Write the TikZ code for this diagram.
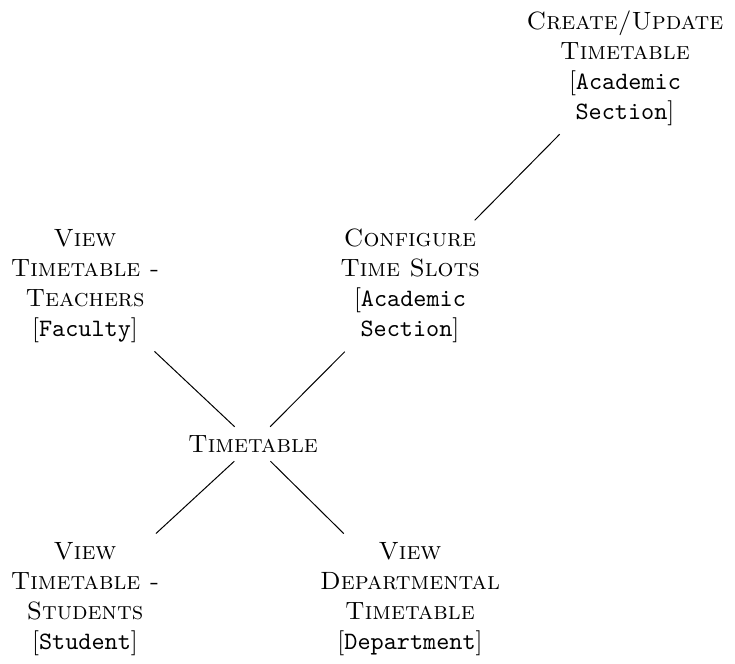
\documentclass[tikz,border=0pt]{standalone}
\begin{document}
\begin{tikzpicture}[x=0.4pt,y=-0.4pt,
  lbl/.style={align=center, inner sep=3.3pt},
  conn/.style={draw=black, line width=0.4pt}]
\useasboundingbox (0,0) rectangle (735,664);
\node[lbl] (cu) at (625,68) {\textsc{Create/Update}\\\textsc{Timetable}\\{[}\texttt{Academic}\\\texttt{Section}{]}};
\node[lbl] (cfg) at (410,286) {\textsc{Configure}\\\textsc{Time Slots}\\{[}\texttt{Academic}\\\texttt{Section}{]}};
\node[lbl] (vt) at (85,286) {\textsc{View}\\\textsc{Timetable -}\\\textsc{Teachers}\\{[}\texttt{Faculty}{]}};
\node[lbl] (tt) at (253,444) {\textsc{Timetable}};
\node[lbl] (vs) at (85,599) {\textsc{View}\\\textsc{Timetable -}\\\textsc{Students}\\{[}\texttt{Student}{]}};
\node[lbl] (vd) at (410,599) {\textsc{View}\\\textsc{Departmental}\\\textsc{Timetable}\\{[}\texttt{Department}{]}};
\draw[conn] (cu) -- (cfg);
\draw[conn] (tt) -- (cfg);
\draw[conn] (tt) -- (vt);
\draw[conn] (tt) -- (vs);
\draw[conn] (tt) -- (vd);
\end{tikzpicture}
\end{document}
